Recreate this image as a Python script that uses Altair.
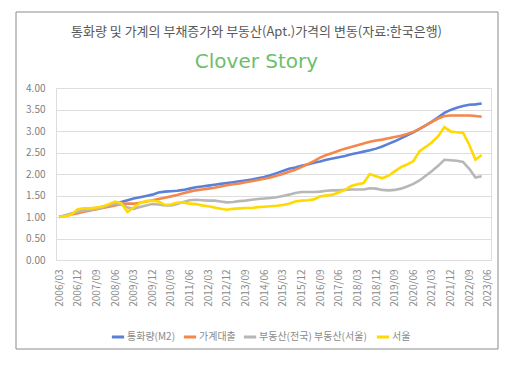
import altair as alt
import pandas as pd

FONT = "Noto Sans CJK KR"

# quarterly category labels 2006/03 .. 2023/06 (70 categories, data up to 2023/03)
years = list(range(2006, 2024))
months = ["03", "06", "09", "12"]
quarters = [f"{y}/{m}" for y in years for m in months][:70]
tick_labels = quarters[::3]

series_names = ["통화량(M2)", "가계대출", "부동산(전국)  부동산(서울)", "  서울"]
series_colors = ["#5b80d8", "#f4874b", "#b7b7b7", "#ffd900"]

m2 = [1.00, 1.03, 1.07, 1.11, 1.15, 1.18, 1.21, 1.24, 1.27, 1.30,
      1.35, 1.39, 1.43, 1.46, 1.49, 1.52, 1.57, 1.59, 1.60, 1.61,
      1.63, 1.66, 1.69, 1.71, 1.73, 1.75, 1.77, 1.79, 1.81, 1.83,
      1.85, 1.87, 1.90, 1.93, 1.97, 2.02, 2.07, 2.12, 2.15, 2.19,
      2.22, 2.26, 2.29, 2.33, 2.36, 2.39, 2.42, 2.46, 2.49, 2.52,
      2.55, 2.59, 2.64, 2.70, 2.76, 2.83, 2.90, 2.97, 3.05, 3.13,
      3.22, 3.32, 3.42, 3.49, 3.54, 3.58, 3.61, 3.62, 3.64]

loans = [1.00, 1.03, 1.06, 1.09, 1.12, 1.15, 1.18, 1.21, 1.24, 1.27,
         1.30, 1.31, 1.31, 1.33, 1.36, 1.39, 1.42, 1.45, 1.48, 1.51,
         1.55, 1.59, 1.62, 1.64, 1.66, 1.68, 1.71, 1.74, 1.76, 1.78,
         1.81, 1.83, 1.86, 1.89, 1.92, 1.96, 2.00, 2.05, 2.10, 2.16,
         2.23, 2.30, 2.38, 2.44, 2.49, 2.54, 2.59, 2.63, 2.67, 2.71,
         2.75, 2.78, 2.80, 2.83, 2.86, 2.89, 2.93, 2.98, 3.05, 3.13,
         3.21, 3.29, 3.35, 3.36, 3.36, 3.36, 3.36, 3.35, 3.33]

house_nation = [1.00, 1.04, 1.08, 1.12, 1.15, 1.17, 1.19, 1.22, 1.27, 1.31,
                1.30, 1.22, 1.19, 1.23, 1.27, 1.30, 1.29, 1.27, 1.27, 1.30,
                1.35, 1.39, 1.40, 1.39, 1.38, 1.38, 1.36, 1.34, 1.35, 1.37,
                1.38, 1.40, 1.42, 1.43, 1.44, 1.46, 1.49, 1.52, 1.56, 1.58,
                1.58, 1.58, 1.59, 1.61, 1.62, 1.62, 1.63, 1.64, 1.64, 1.64,
                1.67, 1.66, 1.63, 1.62, 1.63, 1.66, 1.71, 1.77, 1.85, 1.96,
                2.07, 2.19, 2.33, 2.32, 2.31, 2.28, 2.12, 1.92, 1.95]

house_seoul = [1.00, 1.02, 1.06, 1.18, 1.20, 1.20, 1.22, 1.24, 1.30, 1.36,
               1.32, 1.12, 1.22, 1.32, 1.37, 1.38, 1.36, 1.28, 1.29, 1.33,
               1.34, 1.31, 1.30, 1.27, 1.25, 1.22, 1.19, 1.17, 1.19, 1.20,
               1.21, 1.21, 1.23, 1.24, 1.25, 1.26, 1.28, 1.31, 1.36, 1.38,
               1.39, 1.41, 1.48, 1.50, 1.52, 1.57, 1.63, 1.72, 1.76, 1.79,
               2.00, 1.95, 1.90, 1.96, 2.06, 2.16, 2.22, 2.30, 2.53, 2.63,
               2.74, 2.88, 3.09, 2.99, 2.97, 2.96, 2.68, 2.33, 2.44]

rows = []
for name, vals in zip(series_names, [m2, loans, house_nation, house_seoul]):
    for q, v in zip(quarters, vals):
        rows.append({"quarter": q, "value": v, "series": name})
df = pd.DataFrame(rows)

lines = alt.Chart(df).mark_line(strokeWidth=2.6).encode(
    x=alt.X("quarter:O",
            scale=alt.Scale(type="point", domain=quarters, padding=0.5),
            axis=alt.Axis(values=tick_labels, labelAngle=270, ticks=False, domain=False,
                          grid=False, title=None, labelFontSize=10, labelColor="#8a8a8a",
                          labelFont=FONT, labelPadding=9)),
    y=alt.Y("value:Q",
            scale=alt.Scale(domain=[0, 4], nice=False),
            axis=alt.Axis(values=[0, 0.5, 1, 1.5, 2, 2.5, 3, 3.5, 4], format=".2f",
                          ticks=False, domain=False, gridColor="#dedede", gridWidth=1,
                          title=None, labelFontSize=10, labelColor="#808080",
                          labelFont=FONT, labelPadding=11)),
    color=alt.Color("series:N",
                    scale=alt.Scale(domain=series_names, range=series_colors),
                    legend=alt.Legend(orient="none", legendX=54, legendY=241,
                                      direction="horizontal", title=None,
                                      symbolType="stroke", symbolStrokeWidth=3,
                                      symbolSize=150, labelFontSize=10,
                                      labelColor="#8a8a8a", labelFont=FONT,
                                      labelOffset=1, columnPadding=1, symbolOffset=0)),
)

frame = alt.Chart(pd.DataFrame({"k": [0]})).mark_rect(
    filled=False, stroke="#8c8c8c", strokeWidth=1, strokeOpacity=1
).encode(x=alt.value(-40), x2=alt.value(442), y=alt.value(-76), y2=alt.value(261))

chart = alt.layer(frame, lines).properties(
    width=435, height=172,
    autosize=alt.AutoSizeParams(type="none"),
    padding={"left": 48, "top": 80, "right": 12, "bottom": 103},
    title=alt.TitleParams(
        text="통화량 및 가계의 부채증가와 부동산(Apt.)가격의 변동(자료:한국은행)",
        subtitle="Clover Story",
        font=FONT, fontSize=13, fontWeight="normal", color="#595959",
        subtitleFont="DejaVu Sans", subtitleFontSize=20, subtitleColor="#6cbf6c",
        subtitlePadding=13, anchor="middle", dx=-17, dy=78, offset=18,
    ),
).configure_view(stroke=None).configure(background="white")

chart.save("out.html", embed_options={"renderer": "svg", "actions": False})
